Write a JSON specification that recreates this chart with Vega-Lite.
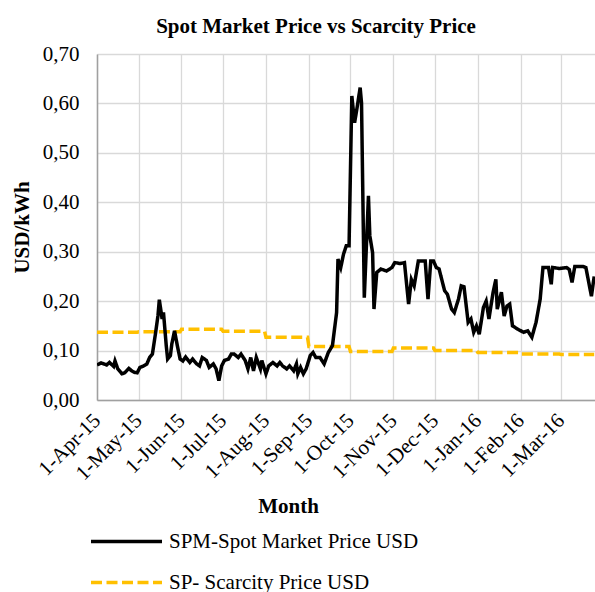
{
  "$schema": "https://vega.github.io/schema/vega-lite/v6.json",
  "autosize": {"type": "none"},
  "padding": {"left": 97, "top": 54, "right": 0, "bottom": 192},
  "width": 498,
  "height": 346,
  "background": "white",
  "title": {
    "text": "Spot Market Price vs Scarcity Price",
    "font": "Liberation Serif",
    "fontSize": 21,
    "fontWeight": "bold",
    "color": "#000000",
    "anchor": "middle",
    "frame": "group",
    "dx": -30,
    "dy": 28,
    "baseline": "alphabetic",
    "offset": 17
  },
  "config": {
    "view": {"stroke": null},
    "axis": {
      "labelFont": "Liberation Serif",
      "labelFontSize": 21,
      "labelColor": "#000000",
      "titleFont": "Liberation Serif",
      "titleFontSize": 21,
      "titleFontWeight": "bold",
      "titleColor": "#000000",
      "gridColor": "#d9d9d9",
      "gridWidth": 1.3,
      "domainColor": "#a0a0a0",
      "domainWidth": 1.5,
      "ticks": false
    },
    "legend": {
      "labelFont": "Liberation Serif",
      "labelFontSize": 21,
      "labelColor": "#000000",
      "labelLimit": 500
    }
  },
  "datasets": {
    "spm": [
      {"date": "2015-04-01", "value": 0.071},
      {"date": "2015-04-04", "value": 0.075},
      {"date": "2015-04-08", "value": 0.071},
      {"date": "2015-04-10", "value": 0.076},
      {"date": "2015-04-13", "value": 0.068},
      {"date": "2015-04-14", "value": 0.079},
      {"date": "2015-04-16", "value": 0.063},
      {"date": "2015-04-19", "value": 0.053},
      {"date": "2015-04-21", "value": 0.055},
      {"date": "2015-04-24", "value": 0.064},
      {"date": "2015-04-26", "value": 0.059},
      {"date": "2015-04-28", "value": 0.056},
      {"date": "2015-04-30", "value": 0.055},
      {"date": "2015-05-02", "value": 0.066},
      {"date": "2015-05-04", "value": 0.068},
      {"date": "2015-05-07", "value": 0.073},
      {"date": "2015-05-09", "value": 0.086},
      {"date": "2015-05-11", "value": 0.093},
      {"date": "2015-05-13", "value": 0.13},
      {"date": "2015-05-15", "value": 0.17},
      {"date": "2015-05-16", "value": 0.203},
      {"date": "2015-05-18", "value": 0.164},
      {"date": "2015-05-19", "value": 0.177},
      {"date": "2015-05-21", "value": 0.11},
      {"date": "2015-05-22", "value": 0.083},
      {"date": "2015-05-24", "value": 0.09},
      {"date": "2015-05-25", "value": 0.113},
      {"date": "2015-05-27", "value": 0.14},
      {"date": "2015-05-29", "value": 0.11},
      {"date": "2015-05-31", "value": 0.083},
      {"date": "2015-06-02", "value": 0.079},
      {"date": "2015-06-04", "value": 0.087},
      {"date": "2015-06-07", "value": 0.076},
      {"date": "2015-06-09", "value": 0.083},
      {"date": "2015-06-12", "value": 0.073},
      {"date": "2015-06-14", "value": 0.069},
      {"date": "2015-06-16", "value": 0.086},
      {"date": "2015-06-19", "value": 0.08},
      {"date": "2015-06-21", "value": 0.066},
      {"date": "2015-06-24", "value": 0.073},
      {"date": "2015-06-26", "value": 0.063},
      {"date": "2015-06-28", "value": 0.039},
      {"date": "2015-06-30", "value": 0.069},
      {"date": "2015-07-02", "value": 0.08},
      {"date": "2015-07-05", "value": 0.083},
      {"date": "2015-07-07", "value": 0.093},
      {"date": "2015-07-09", "value": 0.093},
      {"date": "2015-07-12", "value": 0.086},
      {"date": "2015-07-14", "value": 0.093},
      {"date": "2015-07-17", "value": 0.08},
      {"date": "2015-07-19", "value": 0.063},
      {"date": "2015-07-21", "value": 0.086},
      {"date": "2015-07-23", "value": 0.059},
      {"date": "2015-07-25", "value": 0.086},
      {"date": "2015-07-28", "value": 0.063},
      {"date": "2015-07-29", "value": 0.08},
      {"date": "2015-08-01", "value": 0.053},
      {"date": "2015-08-03", "value": 0.069},
      {"date": "2015-08-06", "value": 0.076},
      {"date": "2015-08-09", "value": 0.069},
      {"date": "2015-08-11", "value": 0.076},
      {"date": "2015-08-13", "value": 0.069},
      {"date": "2015-08-16", "value": 0.063},
      {"date": "2015-08-18", "value": 0.069},
      {"date": "2015-08-21", "value": 0.059},
      {"date": "2015-08-23", "value": 0.073},
      {"date": "2015-08-24", "value": 0.053},
      {"date": "2015-08-26", "value": 0.066},
      {"date": "2015-08-28", "value": 0.053},
      {"date": "2015-08-30", "value": 0.063},
      {"date": "2015-09-02", "value": 0.09},
      {"date": "2015-09-04", "value": 0.096},
      {"date": "2015-09-06", "value": 0.086},
      {"date": "2015-09-09", "value": 0.086},
      {"date": "2015-09-12", "value": 0.073},
      {"date": "2015-09-15", "value": 0.096},
      {"date": "2015-09-18", "value": 0.11},
      {"date": "2015-09-21", "value": 0.177},
      {"date": "2015-09-22", "value": 0.285},
      {"date": "2015-09-24", "value": 0.268},
      {"date": "2015-09-26", "value": 0.295},
      {"date": "2015-09-28", "value": 0.312},
      {"date": "2015-09-30", "value": 0.312},
      {"date": "2015-10-02", "value": 0.615},
      {"date": "2015-10-04", "value": 0.561},
      {"date": "2015-10-06", "value": 0.595},
      {"date": "2015-10-08", "value": 0.632},
      {"date": "2015-10-09", "value": 0.601},
      {"date": "2015-10-11", "value": 0.207},
      {"date": "2015-10-14", "value": 0.413},
      {"date": "2015-10-15", "value": 0.332},
      {"date": "2015-10-17", "value": 0.298},
      {"date": "2015-10-18", "value": 0.184},
      {"date": "2015-10-20", "value": 0.258},
      {"date": "2015-10-23", "value": 0.265},
      {"date": "2015-10-27", "value": 0.261},
      {"date": "2015-10-31", "value": 0.268},
      {"date": "2015-11-02", "value": 0.278},
      {"date": "2015-11-06", "value": 0.276},
      {"date": "2015-11-09", "value": 0.278},
      {"date": "2015-11-12", "value": 0.194},
      {"date": "2015-11-14", "value": 0.244},
      {"date": "2015-11-16", "value": 0.231},
      {"date": "2015-11-19", "value": 0.281},
      {"date": "2015-11-24", "value": 0.281},
      {"date": "2015-11-26", "value": 0.204},
      {"date": "2015-11-28", "value": 0.281},
      {"date": "2015-11-30", "value": 0.281},
      {"date": "2015-12-02", "value": 0.268},
      {"date": "2015-12-04", "value": 0.265},
      {"date": "2015-12-08", "value": 0.221},
      {"date": "2015-12-10", "value": 0.214},
      {"date": "2015-12-13", "value": 0.184},
      {"date": "2015-12-15", "value": 0.177},
      {"date": "2015-12-18", "value": 0.204},
      {"date": "2015-12-20", "value": 0.231},
      {"date": "2015-12-22", "value": 0.229},
      {"date": "2015-12-25", "value": 0.157},
      {"date": "2015-12-27", "value": 0.164},
      {"date": "2015-12-29", "value": 0.137},
      {"date": "2015-12-31", "value": 0.15},
      {"date": "2016-01-02", "value": 0.133},
      {"date": "2016-01-05", "value": 0.187},
      {"date": "2016-01-07", "value": 0.2},
      {"date": "2016-01-09", "value": 0.164},
      {"date": "2016-01-12", "value": 0.218},
      {"date": "2016-01-14", "value": 0.244},
      {"date": "2016-01-15", "value": 0.184},
      {"date": "2016-01-18", "value": 0.218},
      {"date": "2016-01-20", "value": 0.17},
      {"date": "2016-01-22", "value": 0.19},
      {"date": "2016-01-24", "value": 0.194},
      {"date": "2016-01-26", "value": 0.15},
      {"date": "2016-01-30", "value": 0.143},
      {"date": "2016-02-03", "value": 0.137},
      {"date": "2016-02-06", "value": 0.14},
      {"date": "2016-02-09", "value": 0.127},
      {"date": "2016-02-12", "value": 0.157},
      {"date": "2016-02-15", "value": 0.204},
      {"date": "2016-02-17", "value": 0.268},
      {"date": "2016-02-21", "value": 0.268},
      {"date": "2016-02-23", "value": 0.234},
      {"date": "2016-02-24", "value": 0.268},
      {"date": "2016-02-29", "value": 0.266},
      {"date": "2016-03-05", "value": 0.268},
      {"date": "2016-03-07", "value": 0.264},
      {"date": "2016-03-09", "value": 0.238},
      {"date": "2016-03-11", "value": 0.27},
      {"date": "2016-03-17", "value": 0.27},
      {"date": "2016-03-19", "value": 0.268},
      {"date": "2016-03-23", "value": 0.21},
      {"date": "2016-03-25", "value": 0.25}
    ],
    "sp": [
      {"date": "2015-04-01", "value": 0.137},
      {"date": "2015-04-30", "value": 0.137},
      {"date": "2015-05-01", "value": 0.138},
      {"date": "2015-05-31", "value": 0.138},
      {"date": "2015-06-01", "value": 0.143},
      {"date": "2015-06-30", "value": 0.143},
      {"date": "2015-07-01", "value": 0.139},
      {"date": "2015-07-31", "value": 0.139},
      {"date": "2015-08-01", "value": 0.127},
      {"date": "2015-08-31", "value": 0.127},
      {"date": "2015-09-01", "value": 0.108},
      {"date": "2015-09-30", "value": 0.108},
      {"date": "2015-10-01", "value": 0.098},
      {"date": "2015-10-31", "value": 0.098},
      {"date": "2015-11-01", "value": 0.105},
      {"date": "2015-11-30", "value": 0.105},
      {"date": "2015-12-01", "value": 0.1},
      {"date": "2015-12-31", "value": 0.1},
      {"date": "2016-01-01", "value": 0.096},
      {"date": "2016-01-31", "value": 0.096},
      {"date": "2016-02-01", "value": 0.093},
      {"date": "2016-02-29", "value": 0.093},
      {"date": "2016-03-01", "value": 0.092},
      {"date": "2016-03-25", "value": 0.092}
    ]
  },
  "encoding": {
    "x": {
      "field": "date",
      "type": "temporal",
      "scale": {
        "type": "utc",
        "domain": [
          {"year": 2015, "month": 4, "date": 1, "utc": true},
          {"year": 2016, "month": 3, "date": 25, "hours": 14, "utc": true}
        ]
      },
      "axis": {
        "title": "Month",
        "titleX": 191,
        "titleY": 112,
        "titleAlign": "center",
        "titleBaseline": "alphabetic",
        "labelExpr": "utcFormat(datum.value, '%-d-%b-%y')",
        "labelAngle": -45,
        "labelAlign": "right",
        "labelBaseline": "middle",
        "labelPadding": 17,
        "labelOverlap": false,
        "labelBound": false,
        "labelFlush": false,
        "values": [
          {"year": 2015, "month": 4, "date": 1, "utc": true},
          {"year": 2015, "month": 5, "date": 1, "utc": true},
          {"year": 2015, "month": 6, "date": 1, "utc": true},
          {"year": 2015, "month": 7, "date": 1, "utc": true},
          {"year": 2015, "month": 8, "date": 1, "utc": true},
          {"year": 2015, "month": 9, "date": 1, "utc": true},
          {"year": 2015, "month": 10, "date": 1, "utc": true},
          {"year": 2015, "month": 11, "date": 1, "utc": true},
          {"year": 2015, "month": 12, "date": 1, "utc": true},
          {"year": 2016, "month": 1, "date": 1, "utc": true},
          {"year": 2016, "month": 2, "date": 1, "utc": true},
          {"year": 2016, "month": 3, "date": 1, "utc": true}
        ]
      }
    },
    "y": {
      "field": "value",
      "type": "quantitative",
      "scale": {"domain": [0, 0.7], "nice": false},
      "axis": {
        "title": "USD/kWh",
        "titleX": -75,
        "titleY": 173,
        "titleAngle": -90,
        "titleAlign": "center",
        "titleBaseline": "middle",
        "values": [0, 0.1, 0.2, 0.3, 0.4, 0.5, 0.6, 0.7],
        "labelExpr": "replace(format(datum.value, '.2f'), '.', ',')",
        "labelPadding": 18
      }
    }
  },
  "layer": [
    {
      "data": {"name": "sp"},
      "mark": {"type": "line", "strokeWidth": 3.5, "clip": true},
      "encoding": {
        "color": {
          "datum": "SP- Scarcity Price USD",
          "scale": {
            "domain": ["SPM-Spot Market Price USD", "SP- Scarcity Price USD"],
            "range": ["#000000", "#FFC000"]
          },
          "legend": {
            "title": null,
            "orient": "none",
            "legendX": -8,
            "legendY": 477,
            "direction": "vertical",
            "symbolType": "stroke",
            "symbolSize": 5041,
            "symbolStrokeWidth": 3.4,
            "clipHeight": 21,
            "rowPadding": 19,
            "labelOffset": 5,
            "padding": 0
          }
        },
        "strokeDash": {
          "datum": "SP- Scarcity Price USD",
          "scale": {
            "domain": ["SPM-Spot Market Price USD", "SP- Scarcity Price USD"],
            "range": [[1, 0], [11, 4.5]]
          },
          "legend": null
        }
      }
    },
    {
      "data": {"name": "spm"},
      "mark": {"type": "line", "strokeWidth": 3.5, "clip": true},
      "encoding": {
        "color": {"datum": "SPM-Spot Market Price USD"},
        "strokeDash": {"datum": "SPM-Spot Market Price USD"}
      }
    }
  ]
}
